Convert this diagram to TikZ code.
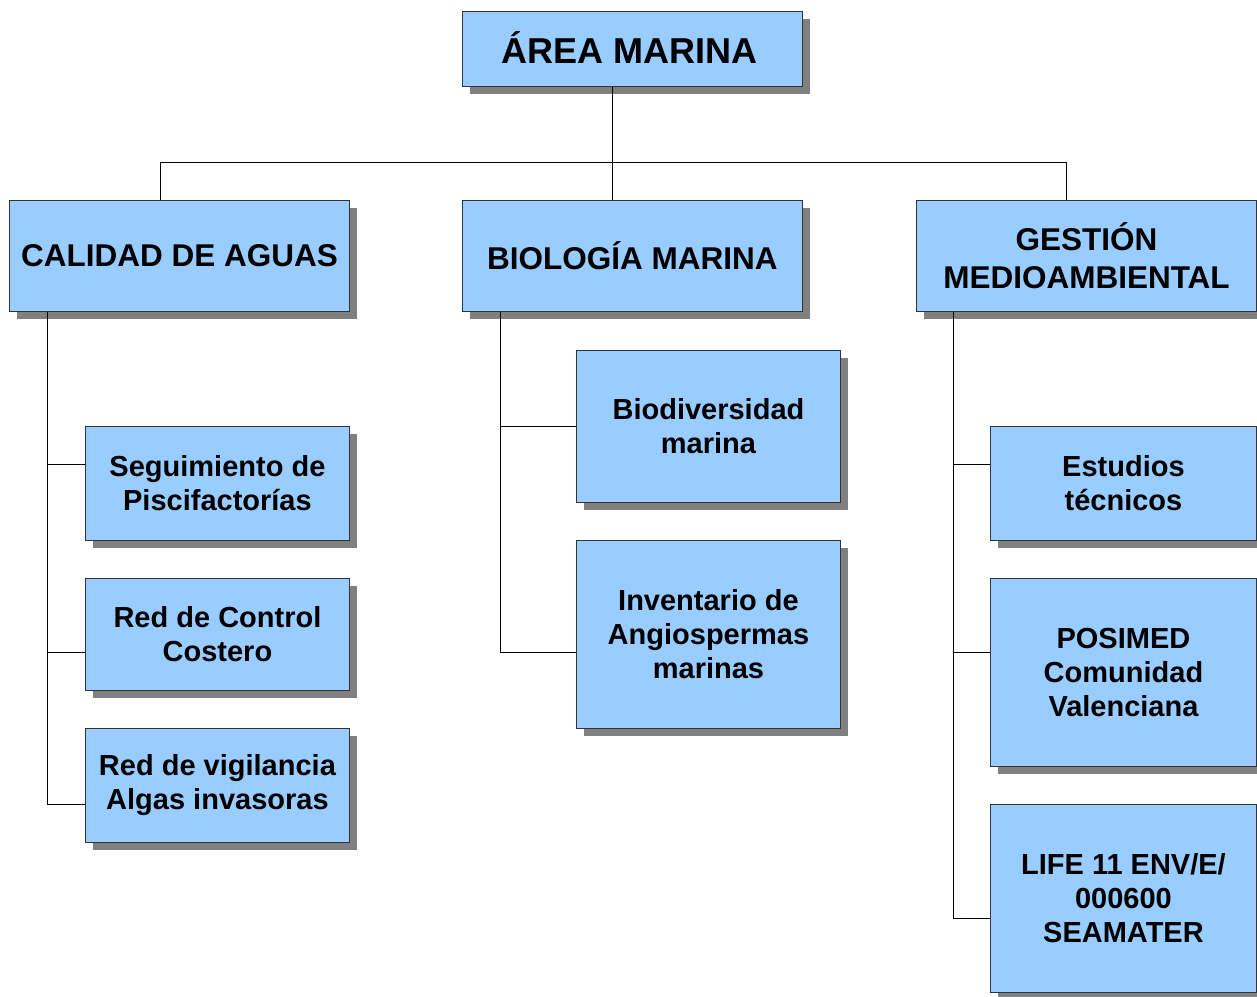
\documentclass[tikz,border=0pt]{standalone}
\usepackage{fontspec}
\setmainfont{Liberation Sans}
\usetikzlibrary{shadows,calc}
\definecolor{boxblue}{HTML}{99CCFF}
\definecolor{shadowgray}{HTML}{808080}
\definecolor{edgegray}{HTML}{333333}
\tikzset{
  box/.style={draw=edgegray, fill=boxblue, line width=0.9pt, align=center,
    inner sep=0pt, anchor=north west,
    drop shadow={shadow xshift=8pt, shadow yshift=-8pt, fill=shadowgray, opacity=1}},
  topfont/.style={font=\fontsize{36}{42}\selectfont\bfseries},
  midfont/.style={font=\fontsize{31.5}{38}\selectfont\bfseries},
  leaffont/.style={font=\fontsize{29}{34}\selectfont\bfseries},
  conn/.style={draw=black, line width=0.9pt}
}
\begin{document}
\begin{tikzpicture}[x=1pt,y=-1pt]
\useasboundingbox (0,0) rectangle (1257,996);
% top
\node[box,topfont,minimum width=340pt,minimum height=75pt] (top) at (462,11) {\raisebox{3pt}{ÁREA MARINA}\hspace*{5pt}};
% level 1
\node[box,midfont,minimum width=340pt,minimum height=111pt] (cal) at (9,200) {CALIDAD DE AGUAS};
\node[box,midfont,minimum width=340pt,minimum height=111pt] (bio) at (462,200) {BIOLOGÍA MARINA};
\node[box,midfont,minimum width=340pt,minimum height=111pt] (ges) at (916,200) {GESTIÓN\\MEDIOAMBIENTAL};
% leaves left
\node[box,leaffont,minimum width=264pt,minimum height=114pt] (seg) at (85,426) {Seguimiento de\\Piscifactorías};
\node[box,leaffont,minimum width=264pt,minimum height=112pt] (rcc) at (85,578) {Red de Control\\Costero};
\node[box,leaffont,minimum width=264pt,minimum height=114pt] (rva) at (85,728) {Red de vigilancia\\Algas invasoras};
% leaves middle
\node[box,leaffont,minimum width=264pt,minimum height=152pt] (bdm) at (576,350) {Biodiversidad\\marina};
\node[box,leaffont,minimum width=264pt,minimum height=188pt] (inv) at (576,540) {Inventario de\\Angiospermas\\marinas};
% leaves right
\node[box,leaffont,minimum width=266pt,minimum height=114pt] (est) at (990,426) {Estudios\\técnicos};
\node[box,leaffont,minimum width=266pt,minimum height=188pt] (pos) at (990,578) {POSIMED\\Comunidad\\Valenciana};
\node[box,leaffont,minimum width=266pt,minimum height=188pt] (life) at (990,804) {LIFE 11 ENV/E/\\000600\\SEAMATER};
% connector anchor points
\coordinate (topB) at ($(top.south)+(-20,0)$);
\coordinate (calN) at ($(cal.north)+(-19,0)$);
\coordinate (bioN) at ($(bio.north)+(-20,0)$);
\coordinate (gesN) at ($(ges.north)+(-20,0)$);
\coordinate (calT) at ($(cal.south west)+(38,0)$);
\coordinate (bioT) at ($(bio.south west)+(38,0)$);
\coordinate (gesT) at ($(ges.south west)+(37,0)$);
% top connectors
\draw[conn] (topB) -- (bioN);
\draw[conn] (calN) -- ++(0,-38) -| (gesN);
% left tree
\draw[conn] (calT) |- (seg.west |- 0,464);
\draw[conn] (calT) |- (rcc.west |- 0,652);
\draw[conn] (calT) |- (rva.west |- 0,804);
% middle tree
\draw[conn] (bioT) |- (bdm.west |- 0,426);
\draw[conn] (bioT) |- (inv.west |- 0,652);
% right tree
\draw[conn] (gesT) |- (est.west |- 0,464);
\draw[conn] (gesT) |- (pos.west |- 0,652);
\draw[conn] (gesT) |- (life.west |- 0,918);
\end{tikzpicture}
\end{document}
